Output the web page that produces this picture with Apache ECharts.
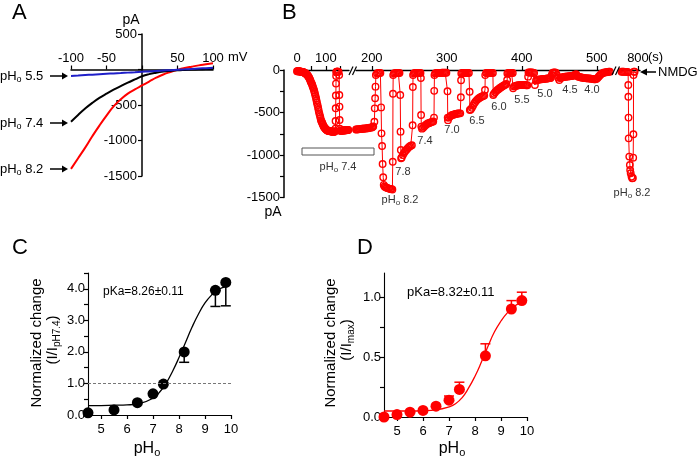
<!DOCTYPE html>
<html><head><meta charset="utf-8">
<script src="https://cdn.jsdelivr.net/npm/echarts@6/dist/echarts.min.js"></script>
<style>html,body{margin:0;padding:0;background:#fff}#c{width:697px;height:460px}</style>
</head><body><div id="c"></div>
<script>
// ---------- Panel A : I-V curves ----------
const ivVoltage = [-100,-90,-80,-70,-60,-50,-40,-30,-20,-10,0,10,20,30,40,50,60,70,80,90,100];
const ivPH55 = [-90,-84,-78,-73,-67,-61,-55,-50,-44,-38,-32,-27,-21,-15,-9,-3,2,8,14,19,25];
const ivPH74 = [-735,-640,-550,-470,-400,-340,-285,-235,-185,-140,-95,-65,-45,-30,-20,-12,-6,-1,3,6,8];
const ivPH82 = [-1400,-1250,-1100,-940,-790,-650,-520,-420,-340,-280,-225,-170,-115,-70,-35,-5,20,40,58,73,88];

// ---------- Panel B : current trace (time s, current pA) ----------
const traceSeg1 = [[0,-15],[2,-15],[3.5,-15],[5,-15],[7,-15],[8.5,-16],[10,-18],[12,-19],[14,-20],[15.5,-21],[17,-22],[19,-24],[21,-25],[22.5,-27],[24,-30],[26,-32],[28,-35],[29.5,-40],[31,-45],[33,-50],
[35,-55],[37,-63],[38,-70],[40,-80],[42,-90],[43.5,-101],[45,-113],[46.5,-126],[48,-140],[50,-154],[52,-168],[53.5,-184],[55,-200],[57,-219],[59,-238],[60.5,-259],[62,-280],[64,-306],[66,-332],[67.5,-358],[69,-385],[71,-412],[73,-440],[74.5,-467],[76,-495],[78,-520],[80,-545],[81.5,-568],[83,-590],[85,-605],[87,-620],[88.5,-633],[90,-645],[91.5,-657],[93,-668],[95,-677],[97,-685],[98.5,-692],[100,-698],[102,-703],[104,-708],[105.5,-711],[107,-714],[109,-716],[111,-718],[112.5,-719],[114,-720],[116,-721],[118,-722],[119.5,-723],[121,-724],[123,-725],[125,-725],[126.5,-725],[128,-725],[129.5,-724],[131,-724],
[133,-690],[133.5,-600],[134,-450],[134.5,-300],[135,-160],[135.5,-70],[136,-25],[137,-20],[138,-20],[139.5,-20],[141,-20],[142.5,-20],[144,-22],
[146,-60],[146.5,-294],[147,-431],[147.5,-588],[148,-690],[150,-715],[151.5,-715],[153,-715],[155,-713],[157,-712],[158.5,-712],[160,-712],[162,-711],[164,-710],[165.5,-710],[167,-710],[169,-709],[171,-708],[172.5,-707],[174,-706],[176,-706],[178,-705]];
const traceSeg2 = [[179,-700],[180,-699],[181,-698],[182.5,-697],[184,-695],[185.5,-693],[187,-692],[188,-691],[189,-690],[190.5,-689],[192,-688],[193.5,-686],[195,-685],[196,-683],[197,-680],[198.5,-678],[200,-675],[201,-670],[202,-665],
[203.5,-608],[204,-451],[204.5,-333],[205,-196],[205.5,-59],[207,-40],[208.5,-35],[210,-35],[211.5,-35],
[212.5,-440],[213,-745],[213.8,-894],[214.5,-1105],[215.3,-1262],[216,-1352],
[217,-1370],[218.5,-1380],[220,-1385],[221.5,-1390],[223,-1395],[224.5,-1400],[226,-1400],[227.5,-1405],
[228,-1080],[228.3,-280],[228.6,-60],
[229.5,-40],[231,-38],[232.5,-36],[234,-35],[235.5,-35],[237,-35],
[238,-294],[238.4,-725],[238.8,-941],[239.2,-1039],
[240,-1030],[241.5,-1000],[243,-975],[244.5,-955],[246,-940],[247.5,-925],[249,-910],[250.5,-900],[252,-890],[253.5,-885],
[254.5,-650],[254.8,-200],[255.1,-60],
[256,-40],[257.5,-36],[259,-35],[260.5,-35],[262,-35],[263.5,-35],[265,-35],
[265.5,-94],[265.8,-529],[266.1,-666],
[267,-690],[268.5,-680],[270,-665],[271.5,-650],[273,-640],[274.5,-630],[276,-625],[277.5,-620],[279,-615],[280.5,-610],[282,-605],
[283,-560],[283.3,-245],[283.6,-60],
[284.5,-40],[286,-36],[287.5,-35],[289,-35],[290.5,-34],[292,-34],[293.5,-33],[295,-33],[296.5,-33],[298,-33],[299.5,-33],
[301,-250],[301.3,-560],[301.6,-590],
[303,-560],[304.5,-545],[306,-535],[307.5,-530],[309,-525],[310.5,-520],[312,-518],[313.5,-515],[315,-512],[316.5,-510],[318,-510],
[318.8,-320],[319.1,-120],[319.4,-40],
[320.5,-36],[322,-35],[323.5,-35],[325,-35],[326.5,-35],[328,-35],[329.5,-35],
[330.5,-255],[330.8,-470],
[332,-465],[333.5,-445],[335,-420],[336.5,-395],[338,-375],[339.5,-360],[341,-345],[342.5,-335],[344,-325],[345.5,-318],[347,-312],[348.5,-305],[350,-300],
[351,-235],[351.3,-60],
[352.5,-36],[354,-35],[355.5,-35],[357,-35],[358.5,-35],[360,-35],[361.5,-35],
[362,-294],
[363,-280],[364.5,-262],[366,-248],[367.5,-236],[369,-225],[370.5,-215],[372,-205],[373.5,-196],[375,-188],[376.5,-180],[378,-173],[379.5,-165],
[380.5,-118],[380.8,-40],
[382,-35],[383.5,-35],[385,-35],[386.5,-35],[388,-35],
[388.5,-216],
[389.5,-195],[391,-190],[392.5,-185],[394,-182],[395.5,-180],[397,-178],[398.5,-176],[400,-175],[401.5,-175],[403,-176],[404.5,-178],[406,-180],[407.5,-180],
[408.5,-78],[409,-30],
[410.5,-30],[412,-30],[413.5,-30],[415,-32],[416.5,-35],
[417.5,-176],
[419,-125],[420.5,-118],[422,-114],[423.5,-112],[425,-110],[426.5,-108],[428,-106],[429.5,-105],[431,-104],[432.5,-102],[434,-100],[435.5,-98],[437,-96],[438.5,-95],
[440,-60],
[441,-35],[442.5,-30],[444,-30],[445.5,-32],
[447,-60],[448.5,-90],[450,-118],[451.5,-95],[453,-90],[454.5,-85],[456,-82],[457.5,-80],[459,-78],[460.5,-76],[462,-75],[463.5,-74],[465,-72],[466.5,-70],[468,-68],[469.5,-65],[471,-55],[472.5,-50],
[474,-70],[475.5,-78],[477,-82],[478.5,-86],[480,-90],[481.5,-92],[483,-95],[484.5,-96],[486,-97],[487.5,-98],[489,-99],[490.5,-100],[492,-102],[493.5,-104],[495,-106],[496.5,-108],[498,-108],[499.5,-105],[501,-95],[502.5,-80],[504,-65],[505.5,-50],[507,-40],[508.5,-35],[510,-30],[511.5,-28],[513,-25],[514.5,-22],[516,-20],[517.5,-20]];
const traceSeg3 = [[778,-20],[779.5,-20],[781,-20],[782.5,-22],[784,-22],[785.5,-22],[786.8,-25],[787.1,-176],[787.2,-314],[787.4,-560],[787.6,-804],[788.4,-1019],[789.2,-1117],[789.6,-1176],[790.3,-1215],[791.4,-1254],[792.3,-1274],[793.2,-1270],[793.6,-1031],[793.9,-756],[794.1,-60],[794.5,-20],[795.5,-20]];
const stepLabelsB = ['7.8','7.4','7.0','6.5','6.0','5.5','5.0','4.5','4.0'];

// ---------- Panel C ----------
const phC = [4.5,5.5,6.4,7.0,7.4,8.2,9.4,9.8];
const normC = [0.07,0.16,0.39,0.67,0.98,2.0,3.95,4.2];
const errPhC = [8.2,9.4,9.8];
const errEndC = [1.67,3.44,3.46];
const fitPhC = [4.5,5,5.5,6,6.5,7,7.25,7.5,7.75,8,8.25,8.5,8.75,9,9.25,9.5,9.8];
const fitC = [0.3,0.3,0.31,0.32,0.37,0.53,0.72,1.0,1.38,1.82,2.3,2.78,3.2,3.55,3.8,3.97,4.07];

// ---------- Panel D ----------
const phD = [4.5,5.0,5.5,6.0,6.5,7.0,7.4,8.4,9.4,9.8];
const normD = [0.0,0.02,0.04,0.055,0.09,0.14,0.23,0.51,0.90,0.97];
const errPhD = [7.0,7.4,8.4,9.4,9.8];
const errEndD = [0.175,0.29,0.61,0.97,1.04];
const fitPhD = [4.5,5,5.5,6,6.5,7,7.25,7.5,7.75,8,8.25,8.5,8.75,9,9.25,9.5,9.8];
const fitD = [0.05,0.05,0.05,0.052,0.06,0.085,0.11,0.16,0.24,0.34,0.46,0.59,0.71,0.80,0.87,0.92,0.96];

// ================= build =================
const FONT = '"Liberation Sans", Arial, sans-serif';
const zip = (a, b) => a.map((v, i) => [v, b[i]]);
const errData = (ph, val, eph, eend) => eph.map((p, i) => [p, val[ph.indexOf(p)], eend[i]]);

function errRender(color, capHalf) {
  return function (params, api) {
    const x = api.value(0), y0 = api.value(1), y1 = api.value(2);
    const a = api.coord([x, y0]), b = api.coord([x, y1]);
    const st = {stroke: color, lineWidth: 1.5};
    return {type: 'group', children: [
      {type: 'line', shape: {x1: a[0], y1: a[1], x2: b[0], y2: b[1]}, style: st},
      {type: 'line', shape: {x1: b[0] - capHalf, y1: b[1], x2: b[0] + capHalf, y2: b[1]}, style: st}
    ]};
  };
}

function txt(x, y, text, size, o) {
  o = o || {};
  return {type: 'text', x: x, y: y, rotation: o.rot || 0, z: 100,
    style: {text: text, fontSize: size, fontFamily: FONT, fill: o.color || '#000',
      align: o.align || 'center', verticalAlign: 'middle'}};
}
function richTxt(x, y, text, size, o) {
  o = o || {};
  const color = o.color || '#000';
  const sub = o.sub || Math.round(size * 0.7);
  return {type: 'text', x: x, y: y, rotation: o.rot || 0, z: 100,
    style: {text: text, fontFamily: FONT, fontSize: size, fill: color,
      align: o.align || 'center', verticalAlign: 'middle',
      rich: {
        m: {fontSize: size, fontFamily: FONT, fill: color},
        s: {fontSize: sub, fontFamily: FONT, fill: color, padding: [Math.round(size * 0.5), 0, 0, 0]}
      }}};
}
function line(x1, y1, x2, y2, w, c) {
  return {type: 'line', z: 100, shape: {x1: x1, y1: y1, x2: x2, y2: y2}, style: {stroke: c || '#000', lineWidth: w || 1}};
}
function tri(points, c) {
  return {type: 'polygon', z: 100, shape: {points: points}, style: {fill: c || '#000'}};
}
function arrowRight(x1, x2, y) {
  return [line(x1, y, x2 - 5, y, 1.5), tri([[x2 - 6, y - 3.5], [x2, y], [x2 - 6, y + 3.5]])];
}

const axisCommon = {
  axisLine: {lineStyle: {color: '#000', width: 1.3}},
  axisTick: {length: 4, lineStyle: {color: '#000', width: 1.2}},
  axisLabel: {color: '#000', fontSize: 13, fontFamily: FONT},
  splitLine: {show: false}
};
function ax(extra) {
  const o = JSON.parse(JSON.stringify(axisCommon));
  for (const k in extra) {
    if (typeof extra[k] === 'object' && !Array.isArray(extra[k]) && o[k]) Object.assign(o[k], extra[k]);
    else o[k] = extra[k];
  }
  return o;
}

const xAxes = [
  ax({type: 'value', gridIndex: 0, min: -100, max: 100, interval: 50, position: 'top', offset: -35.5,
      axisLine: {onZero: false, lineStyle: {color: '#000', width: 1.5}},
      axisLabel: {margin: 5, formatter: v => v === 0 ? '' : String(v)}}),
  ax({type: 'value', gridIndex: 1, min: 0, max: 180, position: 'top',
      axisLine: {onZero: false, lineStyle: {color: '#000', width: 1.4}},
      axisTick: {customValues: [50, 100, 150]}, axisLabel: {margin: 5, customValues: [0, 100]}}),
  ax({type: 'value', gridIndex: 2, min: 179, max: 520, position: 'top',
      axisLine: {onZero: false, lineStyle: {color: '#000', width: 1.4}},
      axisTick: {customValues: [200, 300, 400, 500]}, axisLabel: {margin: 5, customValues: [200, 300, 400, 500]}}),
  ax({type: 'value', gridIndex: 3, min: 776, max: 802.7, position: 'top',
      axisLine: {onZero: false, lineStyle: {color: '#000', width: 1.4}},
      axisTick: {customValues: [800]}, axisLabel: {margin: 5, customValues: [800]}}),
  ax({type: 'value', gridIndex: 4, min: 4.5, max: 10,
      axisLine: {onZero: false, lineStyle: {color: '#000', width: 1.1}},
      axisTick: {customValues: [5, 6, 7, 8, 9, 10]}, axisLabel: {margin: 8, customValues: [5, 6, 7, 8, 9, 10]}}),
  ax({type: 'value', gridIndex: 5, min: 4.5, max: 10,
      axisLine: {onZero: false, lineStyle: {color: '#000', width: 1.1}},
      axisTick: {customValues: [5, 6, 7, 8, 9, 10]}, axisLabel: {margin: 8, customValues: [5, 6, 7, 8, 9, 10]}})
];
const yAxes = [
  ax({type: 'value', gridIndex: 0, min: -1500, max: 500, interval: 500, position: 'left', offset: -71,
      axisLine: {onZero: false, lineStyle: {color: '#000', width: 1.5}},
      axisLabel: {margin: 5, formatter: v => v === 0 ? '' : String(v)}}),
  ax({type: 'value', gridIndex: 1, min: -1500, max: 0, interval: 250, offset: 13,
      axisLine: {onZero: false, lineStyle: {color: '#000', width: 1.5}},
      axisLabel: {margin: 4, formatter: v => (v % 500 === 0) ? String(v) : ''}}),
  {type: 'value', gridIndex: 2, min: -1500, max: 0, show: false, splitLine: {show: false}},
  {type: 'value', gridIndex: 3, min: -1500, max: 0, show: false, splitLine: {show: false}},
  ax({type: 'value', gridIndex: 4, min: 0, max: 4.5, interval: 0.5,
      axisLine: {onZero: false, lineStyle: {color: '#000', width: 1.1}},
      axisLabel: {margin: 3, formatter: v => (Math.abs(v - Math.round(v)) < 1e-6) ? v.toFixed(1) : ''}}),
  ax({type: 'value', gridIndex: 5, min: 0, max: 1.2,
      axisLine: {onZero: false, lineStyle: {color: '#000', width: 1.1}},
      axisTick: {customValues: [0, 0.25, 0.5, 0.75, 1.0]},
      axisLabel: {margin: 3, customValues: [0, 0.5, 1.0], formatter: v => v.toFixed(1)}})
];

const traceStyle = {
  type: 'line', symbol: 'circle', symbolSize: 6.5, clip: false,
  itemStyle: {color: 'rgba(255,255,255,0)', borderColor: '#ff0000', borderWidth: 1.4},
  lineStyle: {color: '#ff0000', width: 1}, emphasis: {disabled: true}
};

const series = [
  {type: 'line', xAxisIndex: 0, yAxisIndex: 0, data: zip(ivVoltage, ivPH82), smooth: true, showSymbol: false, lineStyle: {color: '#ff0000', width: 2}},
  {type: 'line', xAxisIndex: 0, yAxisIndex: 0, data: zip(ivVoltage, ivPH74), smooth: true, showSymbol: false, lineStyle: {color: '#000', width: 2}},
  {type: 'line', xAxisIndex: 0, yAxisIndex: 0, data: zip(ivVoltage, ivPH55), smooth: true, showSymbol: false, lineStyle: {color: '#1f1fc8', width: 2}},
  Object.assign({xAxisIndex: 1, yAxisIndex: 1, data: traceSeg1}, traceStyle),
  Object.assign({xAxisIndex: 2, yAxisIndex: 2, data: traceSeg2}, traceStyle),
  Object.assign({xAxisIndex: 3, yAxisIndex: 3, data: traceSeg3}, traceStyle),
  {type: 'custom', xAxisIndex: 4, yAxisIndex: 4, data: errData(phC, normC, errPhC, errEndC), renderItem: errRender('#000', 5), z: 2},
  {type: 'line', xAxisIndex: 4, yAxisIndex: 4, data: zip(fitPhC, fitC), smooth: true, showSymbol: false, lineStyle: {color: '#000', width: 1.3}, z: 3},
  {type: 'scatter', xAxisIndex: 4, yAxisIndex: 4, data: zip(phC, normC), symbolSize: 11, itemStyle: {color: '#000', opacity: 1}, z: 4,
    markLine: {silent: true, symbol: 'none', label: {show: false}, lineStyle: {color: '#777', type: [3, 2], width: 1}, data: [{yAxis: 1}]}},
  {type: 'custom', xAxisIndex: 5, yAxisIndex: 5, data: errData(phD, normD, errPhD, errEndD), renderItem: errRender('#ff0000', 5), z: 2},
  {type: 'line', xAxisIndex: 5, yAxisIndex: 5, data: zip(fitPhD, fitD), smooth: true, showSymbol: false, lineStyle: {color: '#ff0000', width: 1.3}, z: 3},
  {type: 'scatter', xAxisIndex: 5, yAxisIndex: 5, data: zip(phD, normD), symbolSize: 11, itemStyle: {color: '#ff0000', opacity: 1}, z: 4}
];

// ---------- annotations ----------
const g = [];
g.push(txt(12, 13, 'A', 22, {align: 'left'}), txt(282, 13, 'B', 22, {align: 'left'}),
       txt(12, 248, 'C', 22, {align: 'left'}), txt(357, 248, 'D', 22, {align: 'left'}));
// A
g.push(txt(131, 20, 'pA', 14), txt(228, 57, 'mV', 13, {align: 'left'}));
[['5.5', 76], ['7.4', 123], ['8.2', 169]].forEach(function (p) {
  g.push(richTxt(0, p[1], '{m|pH}{s|o}{m| ' + p[0] + '}', 13, {align: 'left', sub: 9}));
  arrowRight(50, 68, p[1]).forEach(e => g.push(e));
});
// B
g.push(txt(273, 212, 'pA', 14));
g.push(txt(648, 57, '(s)', 13, {align: 'left'}));
g.push(txt(658, 72, 'NMDG', 13, {align: 'left'}));
g.push(line(645, 72, 656, 72, 1.5), tri([[640, 72], [647, 68.5], [647, 75.5]]));
g.push(line(349, 75, 353, 66.5, 1.2), line(352.5, 75, 356.5, 66.5, 1.2));
g.push(line(612, 75, 616, 66.5, 1.2), line(615.5, 75, 619.5, 66.5, 1.2));
g.push({type: 'rect', z: 100, shape: {x: 302, y: 148, width: 72, height: 7}, style: {fill: '#fff', stroke: '#555', lineWidth: 1}});
g.push(richTxt(338, 167, '{m|pH}{s|o}{m| 7.4}', 11, {color: '#333', sub: 8}));
g.push(richTxt(400, 200, '{m|pH}{s|o}{m| 8.2}', 11, {color: '#333', sub: 8}));
g.push(richTxt(632, 193, '{m|pH}{s|o}{m| 8.2}', 11, {color: '#333', sub: 8}));
const stepLabelPosB = [[403, 172], [425, 141], [452, 130], [477, 121], [499, 107], [522, 100], [545, 94], [570, 90], [592, 90]];
stepLabelsB.forEach((t, i) => g.push(txt(stepLabelPosB[i][0], stepLabelPosB[i][1], t, 11, {color: '#333'})));
// C
g.push(txt(37, 343, 'Normalized change', 15, {rot: Math.PI / 2}));
g.push(richTxt(53, 340, '{m|(I/I}{s|pH7.4}{m|)}', 15, {rot: Math.PI / 2, sub: 10}));
g.push(richTxt(147, 449, '{m|pH}{s|o}', 16, {sub: 11}));
g.push(txt(103, 292, 'pKa=8.26\u00b10.11', 12, {align: 'left'}));
// D
g.push(txt(331, 343, 'Normalized change', 15, {rot: Math.PI / 2}));
g.push(richTxt(347, 340, '{m|(I/I}{s|max}{m|)}', 15, {rot: Math.PI / 2, sub: 10}));
g.push(richTxt(452, 449, '{m|pH}{s|o}', 16, {sub: 11}));
g.push(txt(407, 292, 'pKa=8.32\u00b10.11', 13, {align: 'left'}));

const chart = echarts.init(document.getElementById('c'), null, {renderer: 'canvas'});
chart.setOption({
  animation: false,
  backgroundColor: '#fff',
  textStyle: {fontFamily: FONT},
  grid: [
    {left: 71, top: 34, width: 142, height: 142},
    {left: 297, top: 70, width: 52, height: 127.5},
    {left: 356, top: 70, width: 255.75, height: 127.5},
    {left: 620, top: 70, width: 20, height: 127.5},
    {left: 88, top: 273, width: 143, height: 142},
    {left: 384, top: 273, width: 143, height: 144}
  ],
  xAxis: xAxes,
  yAxis: yAxes,
  series: series,
  graphic: {elements: g}
});
</script></body></html>
